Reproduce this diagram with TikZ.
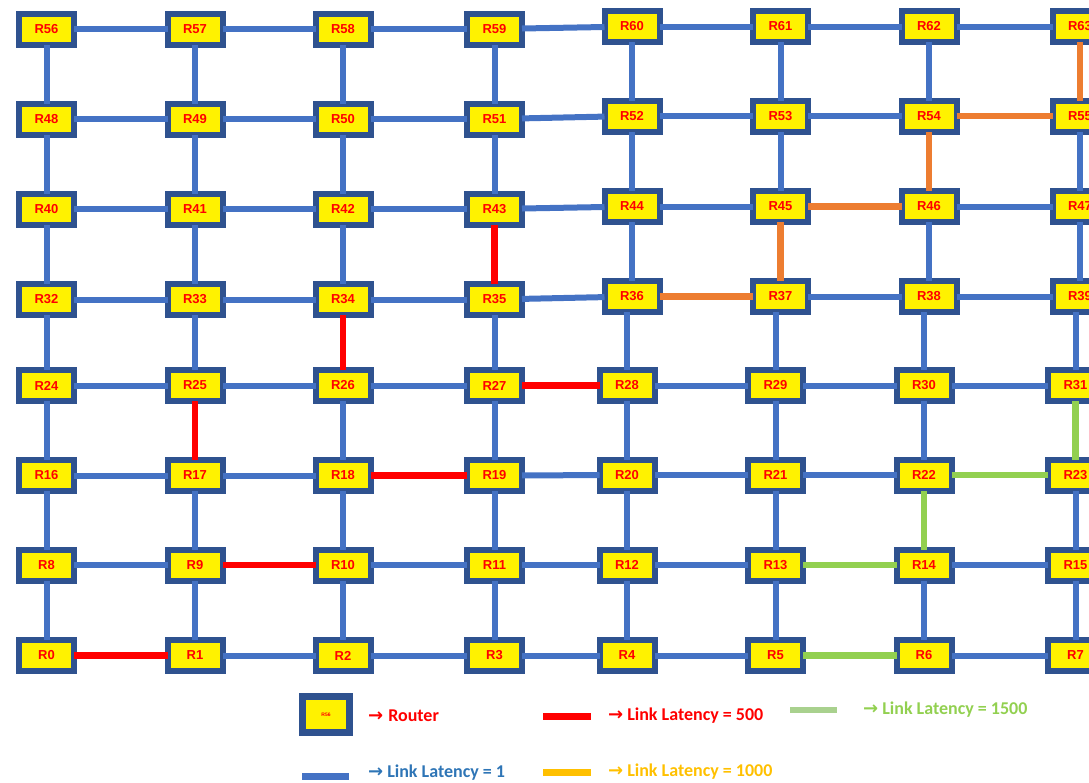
\documentclass[tikz,border=0pt]{standalone}
\usepackage{fontspec}
\setmainfont{Liberation Sans}
\newfontfamily\legfont{Carlito}
\newfontfamily\arrfont{DejaVu Sans}
\definecolor{rborder}{HTML}{2F528F}
\definecolor{lblue}{HTML}{4472C4}
\definecolor{lred}{HTML}{FF0000}
\definecolor{lorange}{HTML}{ED7D31}
\definecolor{lgreen}{HTML}{92D050}
\definecolor{leggreen}{HTML}{A9D18E}
\definecolor{leggold}{HTML}{FFC000}
\definecolor{legbluetext}{HTML}{2E75B6}
\begin{document}
\begin{tikzpicture}[x=1pt,y=-1pt,
  router/.style={draw=rborder, fill=yellow, line width=6pt, minimum width=55pt, minimum height=31pt,
    inner sep=0pt, outer sep=0pt, text=lred, font=\bfseries\fontsize{13}{13}\selectfont},
  lat1/.style={draw=lblue, line width=6pt},
  lat500/.style={draw=lred, line width=6.4pt},
  lat1000/.style={draw=lorange, line width=6.4pt},
  lat1500/.style={draw=lgreen, line width=6.4pt},
  legtext/.style={anchor=base west, inner sep=0pt, font=\legfont\bfseries\fontsize{18}{18}\selectfont}
]
\useasboundingbox (0,0) rectangle (1089,782);

% row 0
\node[router] (R0) at (46.5,655.5) {R0};
\node[router] (R1) at (195,655.5) {R1};
\node[router] (R2) at (343,655.5) {R2};
\node[router] (R3) at (494.5,655.5) {R3};
\node[router] (R4) at (627,655.5) {R4};
\node[router] (R5) at (775.5,655.5) {R5};
\node[router] (R6) at (924,655.5) {R6};
\node[router] (R7) at (1075.5,655.5) {R7};
% row 1
\node[router] (R8) at (46.5,565) {R8};
\node[router] (R9) at (195,565) {R9};
\node[router] (R10) at (343,565) {R10};
\node[router] (R11) at (494.5,565) {R11};
\node[router] (R12) at (627,565) {R12};
\node[router] (R13) at (775.5,565) {R13};
\node[router] (R14) at (924,565) {R14};
\node[router] (R15) at (1075.5,565) {R15};
% row 2
\node[router] (R16) at (46.5,475.5) {R16};
\node[router] (R17) at (195,475.5) {R17};
\node[router] (R18) at (343,475.5) {R18};
\node[router] (R19) at (494.5,475.5) {R19};
\node[router] (R20) at (627,475) {R20};
\node[router] (R21) at (775.5,475) {R21};
\node[router] (R22) at (924,475) {R22};
\node[router] (R23) at (1075.5,475) {R23};
% row 3
\node[router] (R24) at (46.5,385.5) {R24};
\node[router] (R25) at (195,385.5) {R25};
\node[router] (R26) at (343,385.5) {R26};
\node[router] (R27) at (494.5,385.5) {R27};
\node[router] (R28) at (627,385.5) {R28};
\node[router] (R29) at (775.5,385.5) {R29};
\node[router] (R30) at (924,385.5) {R30};
\node[router] (R31) at (1075.5,385.5) {R31};
% row 4
\node[router] (R32) at (46.5,299.5) {R32};
\node[router] (R33) at (195,299.5) {R33};
\node[router] (R34) at (343,299.5) {R34};
\node[router] (R35) at (494.5,299.5) {R35};
\node[router] (R36) at (632,296.5) {R36};
\node[router] (R37) at (780.5,296.5) {R37};
\node[router] (R38) at (929,296.5) {R38};
\node[router] (R39) at (1080,296.5) {R39};
% row 5
\node[router] (R40) at (46.5,209) {R40};
\node[router] (R41) at (195,209) {R41};
\node[router] (R42) at (343,209) {R42};
\node[router] (R43) at (494.5,209) {R43};
\node[router] (R44) at (632,206.5) {R44};
\node[router] (R45) at (780.5,206.5) {R45};
\node[router] (R46) at (929,206.5) {R46};
\node[router] (R47) at (1080,206.5) {R47};
% row 6
\node[router] (R48) at (46.5,119) {R48};
\node[router] (R49) at (195,119) {R49};
\node[router] (R50) at (343,119) {R50};
\node[router] (R51) at (494.5,119) {R51};
\node[router] (R52) at (632,116) {R52};
\node[router] (R53) at (780.5,116) {R53};
\node[router] (R54) at (929,116) {R54};
\node[router] (R55) at (1080,116) {R55};
% row 7
\node[router] (R56) at (46.5,29) {R56};
\node[router] (R57) at (195,29) {R57};
\node[router] (R58) at (343,29) {R58};
\node[router] (R59) at (494.5,29) {R59};
\node[router] (R60) at (632,26.5) {R60};
\node[router] (R61) at (780.5,26.5) {R61};
\node[router] (R62) at (929,26.5) {R62};
\node[router] (R63) at (1080,26.5) {R63};

% blue links (latency 1): horizontal
\foreach \r in {0,...,7}{
  \foreach \c in {0,...,6}{
    \pgfmathtruncatemacro\a{8*\r+\c}
    \pgfmathtruncatemacro\b{\a+1}
    \draw[lat1] (R\a) -- (R\b);
  }
}
% vertical
\foreach \r in {0,...,6}{
  \foreach \c in {0,...,7}{
    \pgfmathtruncatemacro\a{8*\r+\c}
    \pgfmathtruncatemacro\b{\a+8}
    \pgfmathtruncatemacro\skip{(\r==3 && \c>3) ? 1 : 0}
    \ifnum\skip=0
      \draw[lat1] (R\a) -- (R\b);
    \fi
  }
}
% straight verticals between the shifted right-hand blocks
\draw[lat1] (R28.north) -- (R28 |- R36.south);
\draw[lat1] (R29.north) -- (R29 |- R37.south);
\draw[lat1] (R30.north) -- (R30 |- R38.south);
\draw[lat1] (R31.north) -- (R31 |- R39.south);

% latency 500
\draw[lat500] (R0) -- (R1);
\draw[lat500] (R9) -- (R10);
\draw[lat500] (R17) -- (R25);
\draw[lat500] (R18) -- (R19);
\draw[lat500] (R26) -- (R34);
\draw[lat500] (R27) -- (R28);
\draw[lat500] (R35) -- (R43);
% latency 1000
\draw[lat1000] (R36) -- (R37);
\draw[lat1000] (R37) -- (R45);
\draw[lat1000] (R45) -- (R46);
\draw[lat1000] (R46) -- (R54);
\draw[lat1000] (R54) -- (R55);
\draw[lat1000] (R55) -- (R63);
% latency 1500
\draw[lat1500] (R5) -- (R6);
\draw[lat1500] (R13) -- (R14);
\draw[lat1500] (R14) -- (R22);
\draw[lat1500] (R22) -- (R23);
\draw[lat1500] (R23) -- (R31);

% legend
\node[draw=rborder, fill=yellow, line width=7pt, minimum width=47pt, minimum height=36pt, inner sep=0pt,
  text=lred, font=\bfseries\fontsize{5}{5}\selectfont] (legR) at (326,714.5) {R56};
\node[legtext, text=lred] (legRt) at (368,721.5) {{\arrfont →}\hspace{5pt}Router};

\coordinate (l500a) at (543,716); \coordinate (l500b) at (591,716);
\draw[draw=lred, line width=7pt] (l500a) -- (l500b);
\node[legtext, text=lred] (leg500) at (608,720) {{\arrfont →}\hspace{4pt}Link Latency = 500};

\coordinate (l1500a) at (790,710); \coordinate (l1500b) at (837,710);
\draw[draw=leggreen, line width=6.5pt] (l1500a) -- (l1500b);
\node[legtext, text=lgreen] (leg1500) at (863,714.3) {{\arrfont →}\hspace{4pt}Link Latency = 1500};

\coordinate (l1a) at (302,776.5); \coordinate (l1b) at (349,776.5);
\draw[draw=lblue, line width=7pt] (l1a) -- (l1b);
\node[legtext, text=legbluetext] (leg1) at (368,777.6) {{\arrfont →}\hspace{4pt}Link Latency = 1};

\coordinate (l1000a) at (543,772.5); \coordinate (l1000b) at (591,772.5);
\draw[draw=leggold, line width=7pt] (l1000a) -- (l1000b);
\node[legtext, text=leggold] (leg1000) at (608,776.6) {{\arrfont →}\hspace{4pt}Link Latency = 1000};
\end{tikzpicture}
\end{document}
